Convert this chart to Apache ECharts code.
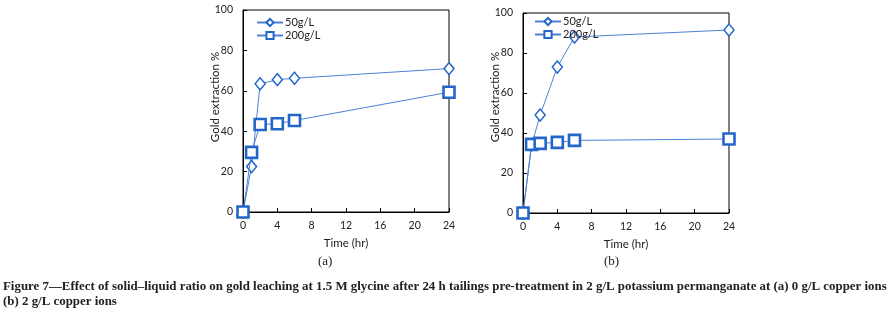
<!DOCTYPE html>
<html><head><meta charset="utf-8">
<script src="https://cdn.jsdelivr.net/npm/echarts@6/dist/echarts.min.js"></script>
<style>html,body{margin:0;padding:0;background:#fff}#c{width:890px;height:317px}</style>
</head><body><div id="c"></div>
<script>
const timeA = [0, 1, 2, 4, 6, 24];
const a50 = [0, 22.5, 63.5, 65.5, 66.2, 71];
const a200 = [0, 29.5, 43.3, 43.7, 45.3, 59.3];
const timeB = [0, 1, 2, 4, 6, 24];
const b50 = [0, 34, 49, 73, 88, 91.5];
const b200 = [0, 34.3, 34.8, 35.3, 36.3, 37];
const seriesNames = ['50g/L', '200g/L'];

const LINE = '#4f80d6';
const MARK = '#2366c9';
const FONT = 'Lato';
function pair(x, y){ return x.map((v,i)=>[v,y[i]]); }

function xAxis(gi){ return {
  gridIndex: gi, type:'value', min:0, max:24, interval:4,
  name:'Time (hr)', nameLocation:'middle', nameGap:25,
  nameTextStyle:{fontFamily:FONT, fontSize:11.5, color:'#222'},
  axisLine:{lineStyle:{color:'#000', width:1}},
  axisTick:{inside:true, length:4, lineStyle:{color:'#000'}},
  axisLabel:{fontFamily:FONT, fontSize:10.5, color:'#222', margin:8},
  splitLine:{show:false}
};}
function yAxis(gi, pad){ return {
  gridIndex: gi, type:'value', min:0, max:100, interval:20,
  name:'Gold extraction %', nameLocation:'middle', nameGap:22, nameMoveOverlap:false,
  nameTextStyle:{fontFamily:FONT, fontSize:11.5, color:'#222', padding:[0,0,0,pad]},
  axisLine:{lineStyle:{color:'#000', width:1}},
  axisTick:{inside:true, length:4, lineStyle:{color:'#000'}},
  axisLabel:{fontFamily:FONT, fontSize:10.5, color:'#222', margin:10},
  splitLine:{show:false}
};}
function s50(gi, x, y){ return {
  name: seriesNames[0], type:'line', xAxisIndex:gi, yAxisIndex:gi, data:pair(x,y),
  symbol:'diamond', symbolSize:[10,12], lineStyle:{color:LINE, width:1},
  itemStyle:{color:'#fff', borderColor:MARK, borderWidth:1.5}, z:2, animation:false
};}
function s200(gi, x, y){ return {
  name: seriesNames[1], type:'line', xAxisIndex:gi, yAxisIndex:gi, data:pair(x,y),
  symbol:'rect', symbolSize:11, lineStyle:{color:LINE, width:1},
  itemStyle:{color:'#fff', borderColor:MARK, borderWidth:2.6}, z:3, animation:false
};}
function legend(left, top){ return {
  left:left, top:top, orient:'vertical', itemWidth:26, itemHeight:9, itemGap:2,
  textStyle:{fontFamily:FONT, fontSize:11, color:'#222', padding:[0,0,0,-3]},
  data:seriesNames.slice()
};}
const chart = echarts.init(document.getElementById('c'), null, {renderer:'canvas'});
chart.setOption({
  animation:false,
  grid:[
    {left:243, top:10, width:206, height:202, show:true, borderColor:'#000', borderWidth:1, backgroundColor:'transparent'},
    {left:523, top:13, width:206, height:200, show:true, borderColor:'#000', borderWidth:1, backgroundColor:'transparent'}
  ],
  xAxis:[xAxis(0), xAxis(1)],
  yAxis:[yAxis(0, 28), yAxis(1, 32)],
  legend:[legend(251, 12), legend(529, 11)],
  series:[s50(0,timeA,a50), s200(0,timeA,a200), s50(1,timeB,b50), s200(1,timeB,b200)],
  graphic:[
    {type:'text', left:318, top:255, style:{text:'(a)', font:'13px "Liberation Serif"', fill:'#222'}},
    {type:'text', left:604, top:255, style:{text:'(b)', font:'13px "Liberation Serif"', fill:'#222'}},
    {type:'text', left:3, top:280, style:{text:'Figure 7\u2014Effect of solid\u2013liquid ratio on gold leaching at 1.5 M glycine after 24 h tailings pre-treatment in 2 g/L potassium permanganate at (a) 0 g/L copper ions', font:'bold 12.9px "Liberation Serif"', fill:'#222'}},
    {type:'text', left:3, top:295, style:{text:'(b) 2 g/L copper ions', font:'bold 12.9px "Liberation Serif"', fill:'#222'}}
  ]
});
</script></body></html>
